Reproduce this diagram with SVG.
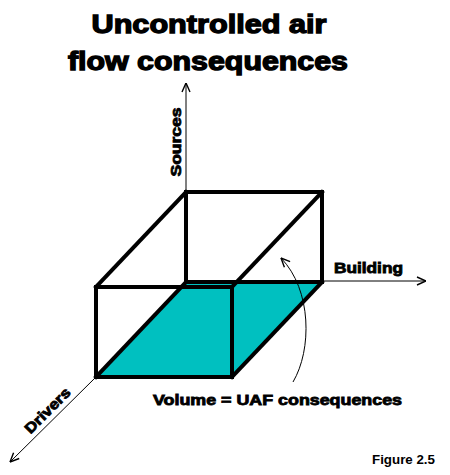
<svg xmlns="http://www.w3.org/2000/svg" width="450" height="475" viewBox="0 0 450 475">
<style>
.t{font-family:"Liberation Sans",Arial,sans-serif;font-weight:bold;fill:#000;stroke:#000;stroke-width:1.3}
.s{font-family:"Liberation Sans",Arial,sans-serif;font-weight:bold;fill:#000;stroke:#000;stroke-width:0.8}
.f{font-family:"Liberation Sans",Arial,sans-serif;font-weight:bold;fill:#000}
.thin{stroke:#000;stroke-width:1;fill:none}
.edge{stroke:#000;stroke-width:4;fill:none;stroke-linecap:square}
</style>
<defs>
<marker id="ah" viewBox="0 0 10 10" refX="10" refY="5" markerWidth="10" markerHeight="10" markerUnits="userSpaceOnUse" orient="auto">
<path d="M1,1 L10,5 L1,9" fill="none" stroke="#000" stroke-width="1.4"/>
</marker>
</defs>
<rect width="450" height="475" fill="#fff"/>
<g id="title">
<text class="t" x="209" y="33" font-size="25" text-anchor="middle" textLength="235" lengthAdjust="spacingAndGlyphs">Uncontrolled air</text>
<text class="t" x="208" y="70" font-size="25" text-anchor="middle" textLength="280" lengthAdjust="spacingAndGlyphs">flow consequences</text>
</g>
<g id="floor">
<polygon points="186,282 322,282 232,377 96,377" fill="#00C0C0"/>
</g>
<g id="connectors">
<line class="thin" x1="186" y1="192" x2="186" y2="83" marker-end="url(#ah)"/>
<line class="thin" x1="322" y1="281" x2="426" y2="281" marker-end="url(#ah)"/>
<line class="thin" x1="96" y1="377" x2="10" y2="462" marker-end="url(#ah)"/>
<path class="thin" d="M293,382 C312,350 312,290 281,258" marker-end="url(#ah)"/>
</g>
<g id="box">
<rect class="edge" x="186" y="192" width="136" height="90"/>
<rect class="edge" x="96" y="287" width="136" height="90"/>
<line class="edge" x1="186" y1="192" x2="96" y2="287"/>
<line class="edge" x1="322" y1="192" x2="232" y2="287"/>
<line class="edge" x1="322" y1="282" x2="232" y2="377"/>
<line class="edge" x1="186" y1="282" x2="96" y2="377"/>
</g>
<g id="sources">
<text class="s" font-size="14" text-anchor="middle" textLength="69" lengthAdjust="spacingAndGlyphs" transform="translate(181,142) rotate(-90)">Sources</text>
</g>
<g id="building">
<text class="s" x="334" y="273" font-size="14" textLength="69" lengthAdjust="spacingAndGlyphs">Building</text>
</g>
<g id="drivers">
<text class="s" font-size="14.5" text-anchor="middle" textLength="58" lengthAdjust="spacingAndGlyphs" transform="translate(51,414) rotate(-45)">Drivers</text>
</g>
<g id="volume">
<text class="s" x="153" y="405" font-size="14" textLength="249" lengthAdjust="spacingAndGlyphs">Volume = UAF consequences</text>
</g>
<g id="figure">
<text class="f" x="372" y="464" font-size="13" textLength="63" lengthAdjust="spacingAndGlyphs">Figure 2.5</text>
</g>
</svg>
